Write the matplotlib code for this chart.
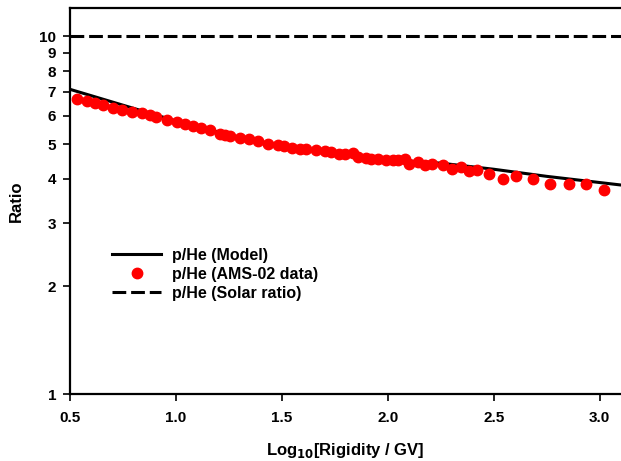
import numpy as np
import matplotlib.pyplot as plt

plt.rcParams['font.family'] = ['Liberation Sans', 'DejaVu Sans']
plt.rcParams['font.weight'] = 'bold'

# model curve
model_x = [0.5, 0.75, 1.0, 1.25, 1.5, 1.75, 2.0, 2.25, 2.5, 2.75, 3.1]
model_y = [7.11, 6.42, 5.80, 5.30, 4.93, 4.70, 4.52, 4.42, 4.25, 4.06, 3.84]

# AMS-02 p/He data points
ams_x = [0.534, 0.581, 0.618, 0.657, 0.704, 0.746, 0.791, 0.838, 0.877, 0.908,
         0.960, 1.003, 1.045, 1.081, 1.120, 1.159, 1.207, 1.230, 1.257, 1.304,
         1.345, 1.387, 1.434, 1.481, 1.508, 1.549, 1.583, 1.615, 1.662, 1.701,
         1.733, 1.768, 1.800, 1.834, 1.858, 1.898, 1.921, 1.955, 1.992, 2.023,
         2.046, 2.081, 2.098, 2.144, 2.177, 2.207, 2.258, 2.301, 2.345, 2.384,
         2.419, 2.478, 2.541, 2.604, 2.686, 2.766, 2.854, 2.937, 3.020]
ams_y = [6.70, 6.60, 6.51, 6.42, 6.32, 6.21, 6.14, 6.11, 6.02, 5.95,
         5.85, 5.76, 5.67, 5.61, 5.56, 5.46, 5.35, 5.31, 5.26, 5.20,
         5.18, 5.10, 5.01, 4.98, 4.93, 4.86, 4.83, 4.83, 4.80, 4.78,
         4.75, 4.70, 4.68, 4.72, 4.60, 4.58, 4.55, 4.55, 4.50, 4.50,
         4.50, 4.53, 4.41, 4.44, 4.38, 4.41, 4.38, 4.25, 4.31, 4.20,
         4.22, 4.11, 3.99, 4.06, 4.00, 3.86, 3.87, 3.86, 3.71]

solar_x = [0.5, 3.1]
solar_y = [10.0, 10.0]

xticks = [0.5, 1.0, 1.5, 2.0, 2.5, 3.0]
yticks = [1, 2, 3, 4, 5, 6, 7, 8, 9, 10]

fig = plt.figure(figsize=(6.21, 4.61), dpi=100)
ax = fig.add_axes([0.1127, 0.1453, 0.8873, 0.8373])

ax.plot(model_x, model_y, color='black', lw=2.2, label='p/He (Model)', zorder=2)
ax.plot(ams_x, ams_y, 'o', color='#ff0000', ms=7.5, mec='#ff0000',
        label='p/He (AMS-02 data)', zorder=3)
ax.plot(solar_x, solar_y, color='black', lw=2.2, dashes=(4.5, 1.6),
        label='p/He (Solar ratio)', zorder=2)

ax.set_yscale('log')
ax.set_xlim(0.5, 3.1)
ax.set_ylim(1, 12)
ax.set_xticks(xticks)
ax.set_xticklabels(['%.1f' % t for t in xticks])
ax.set_yticks(yticks)
ax.set_yticklabels([str(t) for t in yticks])
ax.minorticks_off()
ax.tick_params(direction='out', length=5, width=1.2, labelsize=11)
ax.tick_params(axis='x', pad=7)
ax.tick_params(axis='y', pad=5)
for s in ax.spines.values():
    s.set_linewidth(1.6)
ax.spines['right'].set_visible(False)

ax.set_xlabel('Log$_{10}$[Rigidity / GV]', fontsize=12, fontweight='bold', labelpad=12)
ax.set_ylabel('Ratio', fontsize=12, fontweight='bold', labelpad=11)

ax.legend(loc='upper left', bbox_to_anchor=(0.0646, 0.395), borderaxespad=0,
          frameon=False, handlelength=3.1, handletextpad=0.65, labelspacing=0.25,
          prop={'weight': 'bold', 'size': 11.5})

fig.savefig('out.png', dpi=100)
